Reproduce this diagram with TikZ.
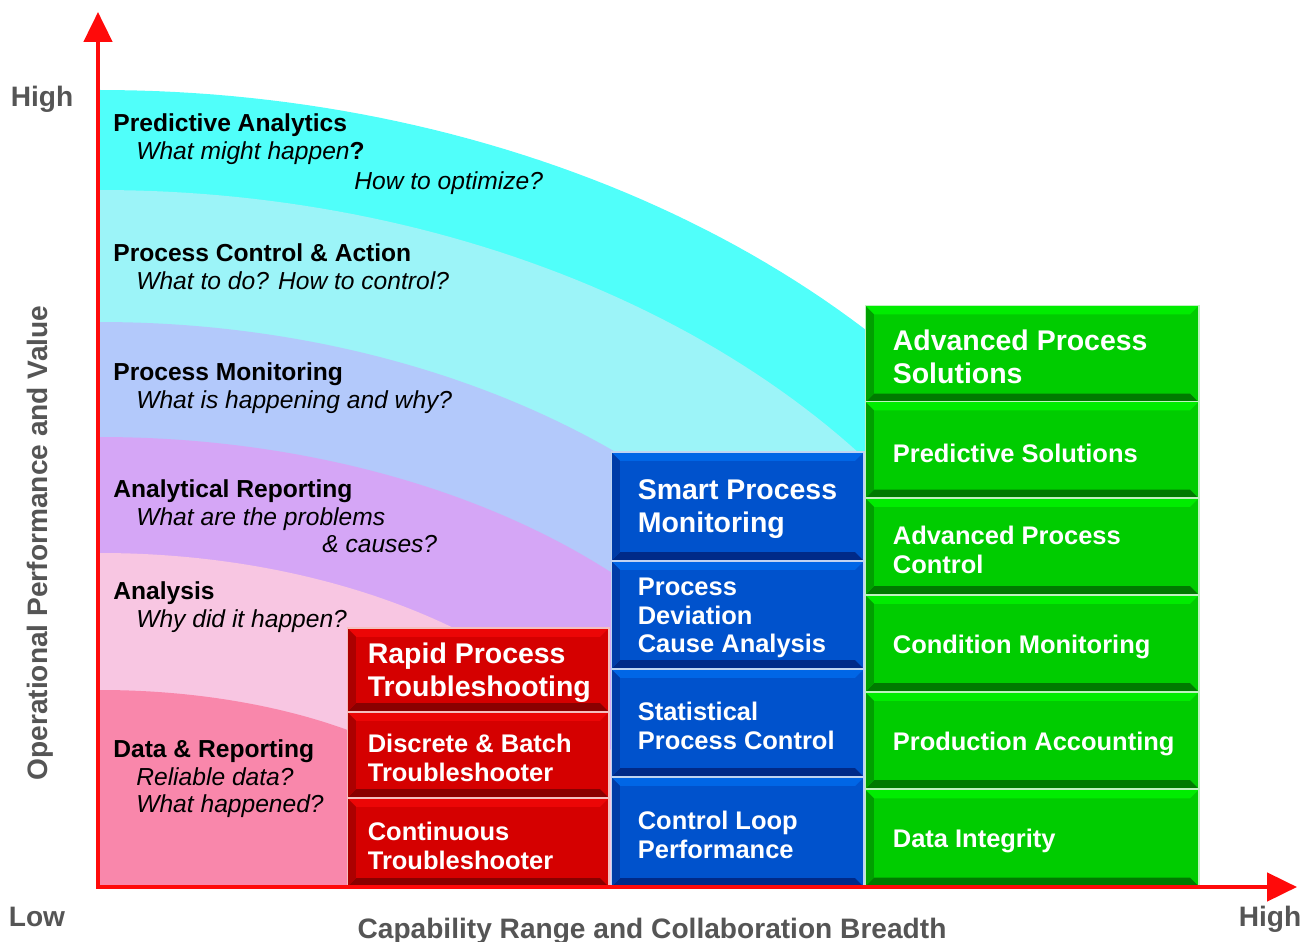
\documentclass[tikz,border=0pt]{standalone}
\usepackage{fontspec}
\setmainfont{Liberation Sans}
\usetikzlibrary{arrows.meta,calc}
\definecolor{axisred}{HTML}{FF0A0A}
\definecolor{axisgray}{HTML}{555555}
\definecolor{bandA}{HTML}{50FFFA}
\definecolor{bandB}{HTML}{9CF4F8}
\definecolor{bandC}{HTML}{B3C9FB}
\definecolor{bandD}{HTML}{D5A6F6}
\definecolor{bandE}{HTML}{F8C6E2}
\definecolor{bandF}{HTML}{F987AB}
\definecolor{blkred}{HTML}{D50000}
\definecolor{blkredhi}{HTML}{EC0606}
\definecolor{blkredlo}{HTML}{8A0000}
\definecolor{blkblue}{HTML}{0052CC}
\definecolor{blkbluehi}{HTML}{0066E6}
\definecolor{blkbluelo}{HTML}{002A88}
\definecolor{blkgreen}{HTML}{00CC00}
\definecolor{blkgreenhi}{HTML}{00EC00}
\definecolor{blkgreenlo}{HTML}{007A00}
\newcommand{\bevelsize}{5pt}
\tikzset{
    >=Stealth,
    axis/.style={draw=axisred,line width=2.3pt,line cap=rect,-{Triangle[length=17pt,width=16pt]}},
    axislbl/.style={text=axisgray,inner sep=0pt,font=\bfseries\fontsize{16}{19}\selectfont},
    bandttl/.style={anchor=west,inner sep=0pt,yshift=-2.8pt,text height=0.75em,text depth=0.25em,font=\bfseries\fontsize{14}{17}\selectfont},
    bandq/.style={bandttl,font=\itshape\fontsize{14}{17}\selectfont},
    bevel/.style n args={3}{fill=#1,draw=white!75!#1,line width=0.6pt,
        path picture={
            \fill[#2] (path picture bounding box.north west) -- (path picture bounding box.north east)
                -- ([xshift=-\bevelsize,yshift=-\bevelsize]path picture bounding box.north east)
                -- ([xshift=\bevelsize,yshift=-\bevelsize]path picture bounding box.north west) -- cycle;
            \fill[#3] (path picture bounding box.south west) -- (path picture bounding box.south east)
                -- ([xshift=-\bevelsize,yshift=\bevelsize]path picture bounding box.south east)
                -- ([xshift=\bevelsize,yshift=\bevelsize]path picture bounding box.south west) -- cycle;
            \fill[#3!55!#1] (path picture bounding box.north west)
                -- ([xshift=\bevelsize,yshift=-\bevelsize]path picture bounding box.north west)
                -- ([xshift=\bevelsize,yshift=\bevelsize]path picture bounding box.south west)
                -- (path picture bounding box.south west) -- cycle;
        }},
    redblk/.style={bevel={blkred}{blkredhi}{blkredlo},minimum width=5.24cm},
    blueblk/.style={bevel={blkblue}{blkbluehi}{blkbluelo},minimum width=5.06cm},
    greenblk/.style={bevel={blkgreen}{blkgreenhi}{blkgreenlo},minimum width=6.68cm,minimum height=1.94cm},
    blktxt/.style={anchor=west,align=left,inner sep=0pt,yshift=-1.7pt,text=white,font=\bfseries\fontsize{14.5}{16.4}\selectfont},
    blkbig/.style={blktxt,font=\bfseries\fontsize{16.2}{18.7}\selectfont}
}

\begin{document}
\begin{tikzpicture}[x=0.02cm,y=-0.02cm]
    \useasboundingbox (0,0) rectangle (1315,942);
    % the bands, outermost first
    \foreach \b/\a/\col in {797/1071/bandA,697/970/bandB,565/808/bandC,450/715/bandD,334/560/bandE,197/410/bandF}
        \fill[\col] (100,887) -- plot[domain=90:0,samples=90] ({100+\a*cos(\x)},{887-\b*sin(\x)}) -- cycle;

    % red column
    \node[redblk,minimum height=1.68cm] (rpt) at (478,670) {};
    \node[blkbig] (rpt-t) at ([xshift=0.42cm]rpt.west) {Rapid Process\\Troubleshooting};
    \node[redblk,minimum height=1.72cm] (dbt) at (478,755) {};
    \node[blktxt] (dbt-t) at ([xshift=0.42cm]dbt.west) {Discrete \& Batch\\Troubleshooter};
    \node[redblk,minimum height=1.78cm] (ct) at (478,842.5) {};
    \node[blktxt] (ct-t) at ([xshift=0.42cm]ct.west) {Continuous\\Troubleshooter};

    % blue column
    \node[blueblk,minimum height=2.18cm] (spm) at (737.5,506.5) {};
    \node[blkbig] (spm-t) at ([xshift=0.54cm]spm.west) {Smart Process\\Monitoring};
    \node[blueblk,minimum height=2.16cm] (pdca) at (737.5,615) {};
    \node[blktxt] (pdca-t) at ([xshift=0.54cm]pdca.west) {Process\\Deviation\\Cause Analysis};
    \node[blueblk,minimum height=2.16cm] (spc) at (737.5,723) {};
    \node[blktxt] (spc-t) at ([xshift=0.54cm]spc.west) {Statistical\\Process Control};
    \node[blueblk,minimum height=2.2cm] (clp) at (737.5,832) {};
    \node[blktxt] (clp-t) at ([xshift=0.54cm]clp.west) {Control Loop\\Performance};

    % green column
    \node[greenblk] (aps) at (1032,354) {};
    \node[blkbig] (aps-t) at ([xshift=0.56cm]aps.west) {Advanced Process\\Solutions};
    \node[greenblk] (ps) at (1032,450) {};
    \node[blktxt] (ps-t) at ([xshift=0.56cm]ps.west) {Predictive Solutions};
    \node[greenblk] (apc) at (1032,546.5) {};
    \node[blktxt] (apc-t) at ([xshift=0.56cm]apc.west) {Advanced Process\\Control};
    \node[greenblk] (cm) at (1032,643.5) {};
    \node[blktxt] (cm-t) at ([xshift=0.56cm]cm.west) {Condition Monitoring};
    \node[greenblk] (pacc) at (1032,740.5) {};
    \node[blktxt] (pacc-t) at ([xshift=0.56cm]pacc.west) {Production Accounting};
    \node[greenblk] (di) at (1032,838) {};
    \node[blktxt] (di-t) at ([xshift=0.56cm]di.west) {Data Integrity};

    % band labels
    \node[bandttl] (pa) at (113,122) {Predictive Analytics};
    \node[bandq] (pa-q) at (136,150) {What might happen{\upshape\bfseries ?}};
    \node[bandq] (pa-q2) at (354,180) {How to optimize?};
    \node[bandttl] (pca) at (113,252) {Process Control \& Action};
    \node[bandq] (pca-q) at (136,280) {What to do? How to control?};
    \node[bandttl] (pm) at (113,371) {Process Monitoring};
    \node[bandq] (pm-q) at (136,399) {What is happening and why?};
    \node[bandttl] (ar) at (113,488) {Analytical Reporting};
    \node[bandq] (ar-q) at (136,516) {What are the problems};
    \node[bandq] (ar-q2) at (322,543) {\& causes?};
    \node[bandttl] (an) at (113,590) {Analysis};
    \node[bandq] (an-q) at (136,618) {Why did it happen?};
    \node[bandttl] (dr) at (113,748) {Data \& Reporting};
    \node[bandq] (dr-q) at (136,776) {Reliable data?};
    \node[bandq] (dr-q2) at (136,803) {What happened?};

    % axes
    \coordinate (org) at (98,887);
    \coordinate (ytop) at (98,12);
    \coordinate (xend) at (1297,887);
    \draw[axis] (org) -- (ytop);
    \draw[axis] (org) -- (xend);
    \node[axislbl] (yhigh) at (42,99) {High};
    \node[axislbl] (ylow) at (37,917) {Low};
    \node[axislbl] (xhigh) at (1270,919) {High};
    \node[axislbl] (xttl) at (652,931) {Capability Range and Collaboration Breadth};
    \node[axislbl,rotate=90] (yttl) at (40,543) {Operational Performance and Value};
\end{tikzpicture}
\end{document}
